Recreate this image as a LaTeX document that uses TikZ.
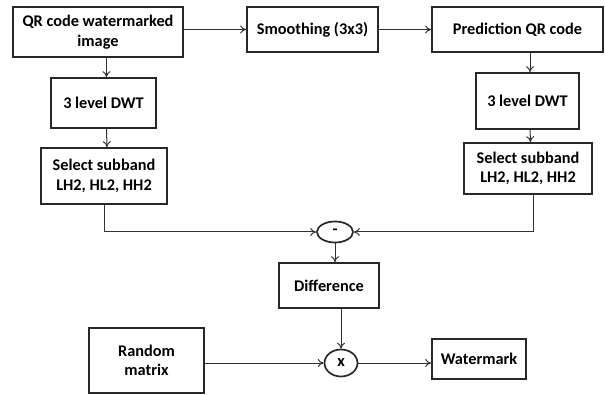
\documentclass[tikz,border=0pt]{standalone}
\usepackage{fontspec}
\setmainfont{Carlito}
\usetikzlibrary{shapes.geometric, arrows.meta, positioning, calc}
\definecolor{colBorder}{RGB}{40,40,40}
\definecolor{colArrow}{RGB}{50,50,50}
\tikzset{
  procBox/.style={
    rectangle, draw=colBorder, line width=1.7pt,
    fill=white, inner sep=0pt, align=center,
    font=\fontsize{16.3}{19.5}\selectfont\bfseries
  },
  opNode/.style={
    ellipse, draw=colBorder, line width=1.7pt,
    fill=white, inner sep=0pt,
    font=\fontsize{16.3}{19.5}\selectfont\bfseries
  },
  arr/.style={
    -{To[length=6pt,width=8pt]}, line width=1pt, color=colArrow
  }
}
\begin{document}
\begin{tikzpicture}[x=1pt, y=-1pt]
  \useasboundingbox (0,0) rectangle (605,395);

  % top row
  \node[procBox, minimum width=170pt, minimum height=50pt] (qr) at (98,32) {QR code watermarked\\image};
  \node[procBox, minimum width=131pt, minimum height=45pt] (smooth) at (312.5,29.5) {Smoothing (3x3)};
  \node[procBox, minimum width=171pt, minimum height=45pt] (pred) at (517.5,29.5) {Prediction QR code};

  % left branch
  \node[procBox, minimum width=105pt, minimum height=50pt] (dwtL) at (103.5,103) {3 level DWT};
  \node[procBox, minimum width=126pt, minimum height=56pt] (selL) at (104,176) {Select subband\\LH2, HL2, HH2};

  % right branch
  \node[procBox, minimum width=103pt, minimum height=56pt] (dwtR) at (527.5,101) {3 level DWT};
  \node[procBox, minimum width=128pt, minimum height=51pt] (selR) at (528,168.5) {Select subband\\LH2, HL2, HH2};

  % difference and watermark
  \node[opNode, minimum width=36pt, minimum height=21pt] (minus) at (335,232) {-};
  \node[procBox, minimum width=100pt, minimum height=45pt] (diff) at (329,285.5) {Difference};
  \node[opNode, minimum width=33pt, minimum height=27pt] (times) at (341,363) {x};
  \node[procBox, minimum width=115pt, minimum height=65pt] (rand) at (146.5,360.5) {Random\\matrix};
  \node[procBox, minimum width=94pt, minimum height=40pt] (wm) at (479,359) {Watermark};

  % top row arrows
  \draw[arr] (smooth.west -| qr.east) -- (smooth.west);
  \draw[arr] (smooth.east) -- (pred.west);

  % down the branches
  \draw[arr] ([xshift=3pt]dwtL.north |- qr.south) -- ([xshift=3pt]dwtL.north);
  \draw[arr] ([xshift=3pt]dwtL.south) -- ([xshift=3pt]selL.north);
  \draw[arr] ([xshift=2.5pt]dwtR.north |- pred.south) -- ([xshift=2.5pt]dwtR.north);
  \draw[arr] ([xshift=2.5pt]dwtR.south) -- ([xshift=2.5pt]selR.north);

  % into the subtraction
  \draw[arr] (selL.south) |- (minus.west);
  \draw[arr] ([xshift=5pt]selR.south) |- (minus.east);
  \draw[arr] (minus.south) -- (minus.south |- diff.north);

  % multiplication
  \draw[arr] (times.north |- diff.south) -- (times.north);
  \draw[arr] (times.west -| rand.east) -- (times.west);
  \draw[arr] (times.east) -- (times.east -| wm.west);

\end{tikzpicture}
\end{document}
